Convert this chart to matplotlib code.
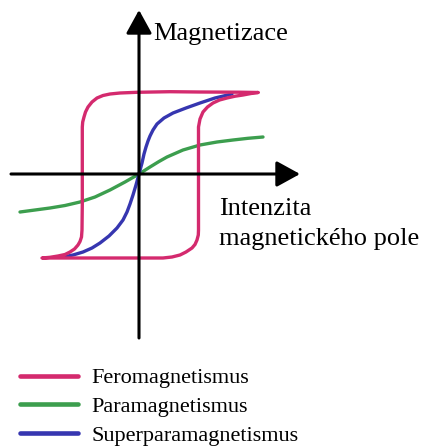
import matplotlib.pyplot as plt
from matplotlib.lines import Line2D

# Data (H = field, M = magnetization)
# ferromagnetic hysteresis loop: upper branch (right tip -> bottom left), then lower branch back
ferro_H = [119, 100, 60, 31, -2, -19, -29, -36, -42, -47, -51, -53.5, -55, -56.3, -56.7,
           -56.7, -56.7, -57, -57.5, -59, -61, -64.5, -69, -74, -81, -89, -97,
           -81, -40, 0, 24, 33, 41, 47, 53, 56, 58, 59.3, 59.5,
           59.5, 59.5, 61, 64, 68.5, 74, 80.5, 88, 96, 104, 112, 119]
ferro_M = [81.5, 81.8, 82, 82.3, 81.7, 81, 80, 78.5, 76, 72, 67, 62, 57, 52, 47,
           0, -30, -56, -63, -67.5, -71, -75, -78, -80.5, -82, -83.3, -84,
           -84, -84, -84, -84, -83, -81, -78, -74, -70.5, -66, -61, -56,
           0, 47, 55, 62, 67, 71, 74, 76, 77.8, 79, 80.5, 81.5]

# paramagnetic curve
para_H = [-119, -104, -89, -74, -59, -44, -29, -14, 0, 11, 20, 28, 44, 61, 78, 94, 109, 124]
para_M = [-38, -36, -34, -31.5, -28, -23, -16, -8, 0, 7, 12.5, 17, 24, 29, 32, 34, 35.7, 37]

# superparamagnetic curve
super_H = [-76, -66, -56, -47, -39, -30, -22, -16, -12, -9, -6, -3, 0,
           3, 5, 7, 9, 11, 14, 18, 25, 34, 47, 61, 76, 93]
super_M = [-83, -81, -78, -74, -69, -62, -54, -46, -38, -30, -21, -11, 0,
           11, 20, 27, 33, 38, 44, 50, 56, 61, 66, 71, 76, 80]

labels = ['Feromagnetismus', 'Paramagnetismus', 'Superparamagnetismus']
colors = ['#d42a6e', '#3c9e4e', '#3636b0']

plt.rcParams['font.family'] = ['Liberation Serif', 'DejaVu Serif']

fig = plt.figure(figsize=(4.24, 4.47), dpi=100)
ax = fig.add_axes([0, 0, 1, 1])
ax.set_xlim(-139, 285)
ax.set_ylim(-273, 174)
ax.axis('off')

# axes with arrows
arrow = dict(arrowstyle='-|>,head_length=1.0,head_width=0.55', color='black',
             lw=2.2, mutation_scale=14.4, shrinkA=0, shrinkB=0)
ax.annotate('', xy=(0, 164), xytext=(0, -164), arrowprops=arrow)
ax.annotate('', xy=(161, 0), xytext=(-128, 0), arrowprops=arrow)

# curves
ax.plot(para_H, para_M, color=colors[1], lw=2.4, solid_capstyle='round', solid_joinstyle='round')
ax.plot(super_H, super_M, color=colors[2], lw=2.4, solid_capstyle='round', solid_joinstyle='round')
ax.plot(ferro_H, ferro_M, color=colors[0], lw=2.4, solid_capstyle='round',
        solid_joinstyle='round')

# axis labels
ax.text(14, 134, 'Magnetizace', fontsize=19, va='baseline', ha='left')
ax.text(80, -41, 'Intenzita', fontsize=19, va='baseline', ha='left')
ax.text(80, -71, 'magnetického pole', fontsize=19, va='baseline', ha='left')

# legend
handles = [Line2D([], [], color=c, lw=3.3, solid_capstyle='round') for c in colors]
fig.legend(handles, labels, loc='upper left', bbox_to_anchor=(0.047, 0.177),
           frameon=False, fontsize=16, handlelength=2.6, handletextpad=0.6,
           labelspacing=0.36, borderpad=0, borderaxespad=0)

fig.savefig('out.png', dpi=100)
